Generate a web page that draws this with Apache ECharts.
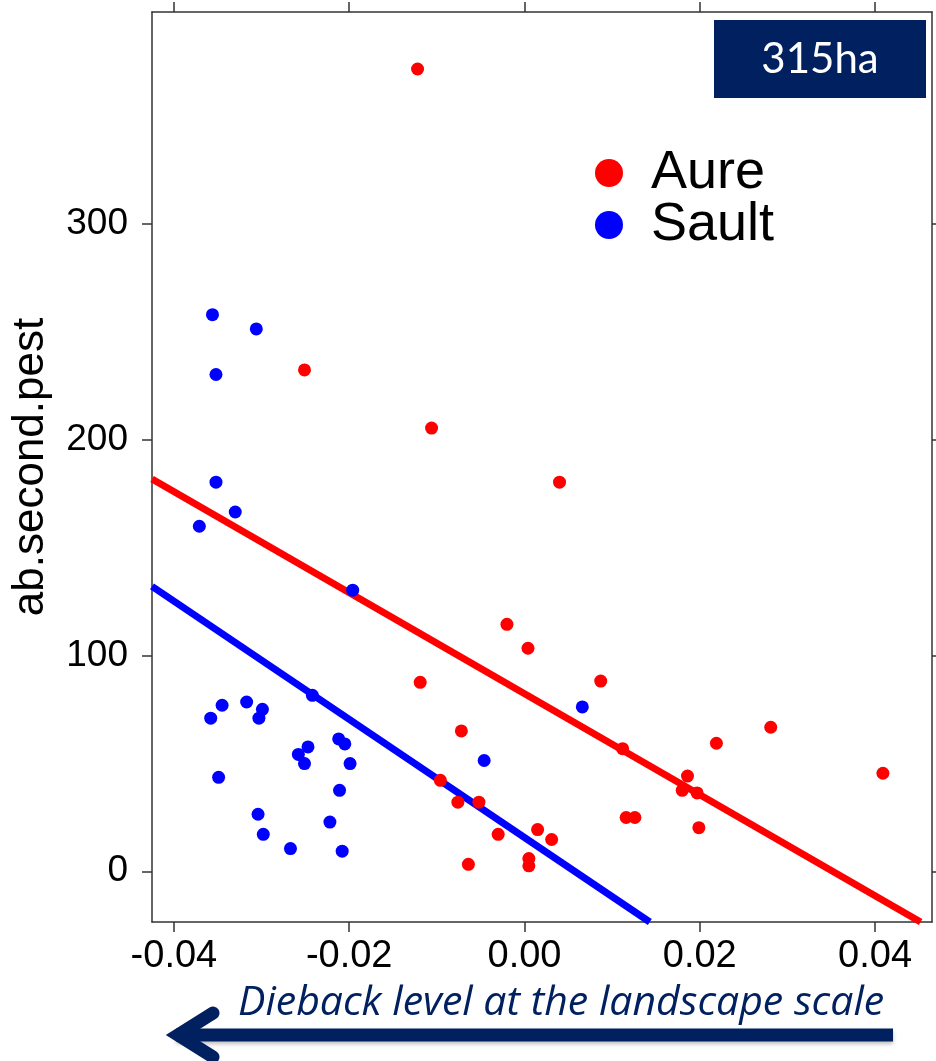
<!DOCTYPE html>
<html>
<head>
<meta charset="utf-8">
<title>ab.second.pest</title>
<script src="https://cdn.jsdelivr.net/npm/echarts@6.0.0/dist/echarts.min.js"></script>
<style>
  html, body { margin: 0; padding: 0; background: #fff; }
  #main { width: 936px; height: 1061px; }
</style>
</head>
<body>
<div id="main"></div>
<script>
// Aure (red) points
var aureX = [-0.0122, -0.0251, -0.0106, 0.0040, -0.0020, 0.0004, -0.0119, 0.0087, -0.0072, 0.0281,
             0.0219, 0.0112, 0.0409, 0.0186, -0.0096, 0.0180, 0.0197, -0.0076, -0.0052, 0.0116,
             0.0126, 0.0199, 0.0015, 0.0031, -0.0030, -0.0064, 0.0005, 0.0005];
var aureY = [371.6, 232.2, 205.3, 180.2, 114.4, 103.3, 87.5, 88.1, 65.0, 66.7,
             59.3, 56.8, 45.4, 44.1, 42.1, 37.5, 36.3, 32.0, 32.0, 24.9,
             24.9, 20.2, 19.3, 14.7, 17.1, 3.2, 5.9, 2.5];

// Sault (blue) points
var saultX = [-0.0356, -0.0306, -0.0352, -0.0352, -0.0330, -0.0371, -0.0196, -0.0242, -0.0345, -0.0317,
              -0.0299, -0.0358, -0.0303, -0.0212, -0.0205, -0.0247, -0.0258, -0.0251, -0.0199, -0.0349,
              -0.0211, -0.0304, -0.0222, -0.0298, -0.0267, -0.0208, 0.0066, -0.0046];
var saultY = [257.8, 251.2, 230.1, 180.2, 166.4, 159.8, 130.2, 81.5, 76.9, 78.4,
              75.0, 70.9, 70.9, 61.3, 59.0, 57.6, 54.1, 49.9, 49.9, 43.5,
              37.5, 26.4, 22.8, 17.1, 10.5, 9.3, 76.1, 51.3];

// fitted lines, ends read where they leave the panel
var aureFitX = [-0.0425, 0.0452];
var aureFitY = [181.7, -23.5];
var saultFitX = [-0.0425, 0.0143];
var saultFitY = [132.0, -23.5];

var xTicks = [-0.04, -0.02, 0, 0.02, 0.04];
var yTicks = [0, 100, 200, 300];

function pairs(xs, ys) {
    return xs.map(function (x, i) { return [x, ys[i]]; });
}

var navy = '#002060';
var axisColor = '#333';

function axis(position, ticks, min, max, withLabels, fmt) {
    return {
        type: 'value',
        position: position,
        min: min,
        max: max,
        axisLine: { show: true, onZero: false, lineStyle: { color: axisColor, width: 1.5 } },
        axisTick: { show: true, inside: false, length: 10, customValues: ticks,
                    lineStyle: { color: axisColor, width: 1.5 } },
        axisLabel: {
            show: withLabels,
            customValues: ticks,
            formatter: fmt,
            color: '#000',
            fontSize: position === 'bottom' ? 38 : 37,
            fontFamily: 'Liberation Sans',
            margin: position === 'bottom' ? 16 : 24
        },
        splitLine: { show: false }
    };
}

var chart = echarts.init(document.getElementById('main'));

var xFmt = function (v) { return v.toFixed(2); };
var yFmt = function (v) { return String(v); };

var yLeft = axis('left', yTicks, -23.5, 398, true, yFmt);
yLeft.name = 'ab.second.pest';
yLeft.nameLocation = 'middle';
yLeft.nameRotate = 90;
yLeft.nameGap = 99;
yLeft.nameTextStyle = { fontSize: 44, fontFamily: 'Liberation Sans', color: '#000' };

chart.setOption({
    backgroundColor: '#fff',
    animation: false,
    grid: { left: 152, right: 4, top: 12, bottom: 139, outerBoundsMode: 'none' },
    xAxis: [
        axis('bottom', xTicks, -0.0425, 0.0465, true, xFmt),
        axis('top', xTicks, -0.0425, 0.0465, false, xFmt)
    ],
    yAxis: [
        yLeft,
        axis('right', yTicks, -23.5, 398, false, yFmt)
    ],
    legend: {
        data: ['Aure', 'Sault'],
        orient: 'vertical',
        left: 595,
        top: 146,
        padding: 0,
        icon: 'circle',
        itemWidth: 74,
        itemHeight: 28,
        itemGap: -2,
        selectedMode: false,
        textStyle: { fontSize: 54, fontFamily: 'Liberation Sans', color: '#000' }
    },
    series: [
        {
            name: 'Aure fit', type: 'line', data: pairs(aureFitX, aureFitY),
            showSymbol: false, silent: true, z: 2,
            lineStyle: { color: '#ff0000', width: 7 }
        },
        {
            name: 'Sault fit', type: 'line', data: pairs(saultFitX, saultFitY),
            showSymbol: false, silent: true, z: 2,
            lineStyle: { color: '#0000ff', width: 7 }
        },
        {
            name: 'Aure', type: 'scatter', data: pairs(aureX, aureY),
            symbolSize: 13, z: 3, itemStyle: { color: '#ff0000', opacity: 1 }
        },
        {
            name: 'Sault', type: 'scatter', data: pairs(saultX, saultY),
            symbolSize: 13, z: 3, itemStyle: { color: '#0000ff', opacity: 1 }
        }
    ],
    graphic: [
        { type: 'rect', shape: { x: 714, y: 20, width: 212, height: 78 }, style: { fill: navy }, z: 10 },
        {
            type: 'text', z: 11,
            style: { text: '315ha', x: 820, y: 59, fill: '#fff', fontSize: 42, fontFamily: 'Lato',
                     align: 'center', verticalAlign: 'middle' }
        },
        {
            type: 'text', z: 10,
            style: { text: 'Dieback level at the landscape scale', x: 238, y: 1003, fill: navy,
                     fontSize: 41, fontFamily: 'Open Sans', fontStyle: 'italic', verticalAlign: 'middle' }
        },
        {
            type: 'line', z: 10,
            shape: { x1: 176, y1: 1035, x2: 893, y2: 1035 },
            style: { stroke: navy, lineWidth: 13, shadowBlur: 4, shadowOffsetY: 2, shadowColor: 'rgba(0,0,0,0.25)' }
        },
        {
            type: 'polyline', z: 10,
            shape: { points: [[213, 1013], [178, 1035], [213, 1057]] },
            style: { stroke: navy, fill: null, lineWidth: 13, lineCap: 'round', lineJoin: 'miter' }
        }
    ]
});
</script>
</body>
</html>
